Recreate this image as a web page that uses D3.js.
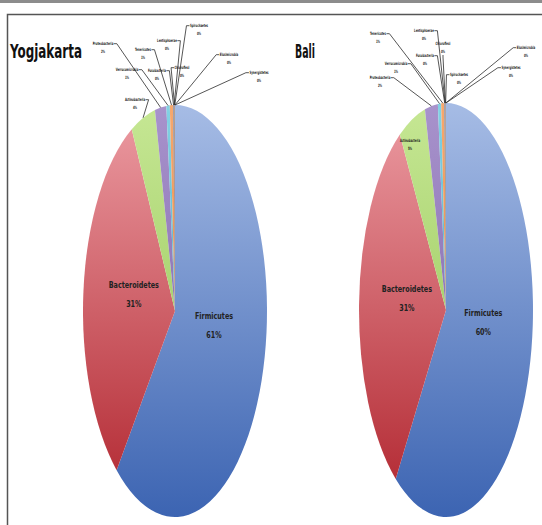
<!DOCTYPE html>
<html>
<head>
<meta charset="utf-8">
<script src="https://cdn.jsdelivr.net/npm/d3@7"></script>
<style>
  body { margin: 0; background: #fff; }
  svg { display: block; }
</style>
</head>
<body>
<div id="chart"></div>
<script>
// phylum composition (%), Excel category order
var phyla = ["Firmicutes", "Bacteroidetes", "Actinobacteria", "Proteobacteria", "Verrucomicrobia",
             "Tenericutes", "Fusobacteria", "Lentisphaerae", "Chloroflexi", "Spirochaetes",
             "Elusimicrobia", "Synergistetes"];
var yogjaValues = [61.0, 31.3, 4.3, 2.0, 0.6, 0.6, 0.1, 0.1, 0.05, 0.03, 0.01, 0.01];
var baliValues  = [59.8, 31.3, 5.0, 2.4, 0.6, 0.6, 0.1, 0.05, 0.05, 0.05, 0.02, 0.02];
var regionNames = ["Yogjakarta", "Bali"];

// slice colours (top -> bottom of gradient)
var sliceColors = [
  ["#a6bce5", "#3c64b2"], ["#ec9ca3", "#b0242d"], ["#c6e794", "#8cbf4c"],
  ["#a893cc", "#7659a2"], ["#83d2e4", "#3797b3"], ["#f7a86e", "#de772b"],
  ["#5a7bab", "#2c4d75"], ["#a55856", "#772c2a"], ["#8aa35a", "#5f7530"],
  ["#7a6892", "#4d3b62"], ["#4f98ab", "#276a7c"], ["#d88040", "#b65708"]
];

// layout of each pie and its outside labels (x, y of first line, side the leader leaves from)
var pies = [
  { name: regionNames[0], values: yogjaValues, cx: 175, cy: 311, rx: 92, ry: 206,
    title: { x: 10, y: 58, w: 72 },
    outside: {
      "Proteobacteria": [103, 45, "r"], "Tenericutes": [143, 51, "r"], "Lentisphaerae": [167, 42, "r"],
      "Spirochaetes": [199, 27, "l"], "Elusimicrobia": [229, 56, "l"], "Synergistetes": [259, 74, "l"],
      "Verrucomicrobia": [127, 71, "r"], "Fusobacteria": [157, 72, "r"], "Chloroflexi": [182, 69, "l"],
      "Actinobacteria": [135, 101, "r"]
    } },
  { name: regionNames[1], values: baliValues, cx: 446, cy: 310, rx: 87, ry: 207,
    title: { x: 295, y: 58, w: 20 },
    outside: {
      "Tenericutes": [378, 35, "r"], "Lentisphaerae": [424, 32, "r"], "Chloroflexi": [443, 45, "b"],
      "Fusobacteria": [425, 57, "r"], "Verrucomicrobia": [396, 65, "r"], "Proteobacteria": [380, 79, "r"],
      "Spirochaetes": [459, 76, "l"], "Elusimicrobia": [526, 49, "l"], "Synergistetes": [511, 69, "l"]
    },
    inside: { "Actinobacteria": [410, 142] } }
];

var width = 542, height = 525, R = 100;
var font = "'DejaVu Sans Condensed', 'DejaVu Sans', sans-serif";

var svg = d3.select("#chart").append("svg")
    .attr("width", width)
    .attr("height", height);

// page frame
svg.append("rect").attr("x", 0).attr("y", 0).attr("width", width).attr("height", 3).attr("fill", "#8c8c8c");
svg.append("rect").attr("x", 7.5).attr("y", 14.5).attr("width", 560).attr("height", 560)
    .attr("fill", "none").attr("stroke", "#555").attr("stroke-width", 1.5);

var defs = svg.append("defs");
sliceColors.forEach(function (c, i) {
  var g = defs.append("linearGradient").attr("id", "grad" + i)
      .attr("gradientUnits", "userSpaceOnUse")
      .attr("x1", 0).attr("y1", -R).attr("x2", 0).attr("y2", R);
  g.append("stop").attr("offset", "0%").attr("stop-color", c[0]);
  g.append("stop").attr("offset", "100%").attr("stop-color", c[1]);
});

var pie = d3.pie().sort(null).value(function (d) { return d; });
var arc = d3.arc().innerRadius(0).outerRadius(R);
var fmt = d3.format(".0%");

// two-line label squeezed horizontally by k (narrow font look); returns width of first line
function twoLine(x, y, a, b, size, gap, k, color, weight) {
  var t = svg.append("text")
      .attr("transform", "translate(" + x + "," + y + ") scale(" + k + ",1)")
      .attr("text-anchor", "middle")
      .style("font-family", font).style("font-size", size + "px")
      .style("font-weight", weight || "normal")
      .attr("fill", color);
  var t1 = t.append("tspan").attr("x", 0).attr("y", 0).text(a);
  t.append("tspan").attr("x", 0).attr("y", gap).text(b);
  return t1.node().getComputedTextLength() * k;
}

pies.forEach(function (p) {
  var total = d3.sum(p.values);
  var slices = pie(p.values);

  // title, squeezed to the reference width
  var title = svg.append("text")
      .style("font-family", font).style("font-weight", "bold").style("font-size", "20px")
      .attr("fill", "#111")
      .text(p.name);
  var tw = title.node().getComputedTextLength();
  title.attr("transform", "translate(" + p.title.x + "," + p.title.y + ") scale(" + (p.title.w / tw) + ",1)");

  // slices, drawn on a circle then stretched into the ellipse
  var g = svg.append("g")
      .attr("transform", "translate(" + p.cx + "," + p.cy + ") scale(" + (p.rx / R) + "," + (p.ry / R) + ")");
  g.selectAll("path").data(slices).enter().append("path")
      .attr("d", arc)
      .attr("fill", function (d, i) { return "url(#grad" + i + ")"; });

  function edgePoint(d) {
    var a = (d.startAngle + d.endAngle) / 2;
    return [p.cx + p.rx * Math.sin(a), p.cy - p.ry * Math.cos(a)];
  }

  // big inside labels
  slices.slice(0, 2).forEach(function (d, i) {
    var a = (d.startAngle + d.endAngle) / 2;
    var x = p.cx + Math.sin(a) * 0.45 * p.rx;
    var y = p.cy - Math.cos(a) * 0.35 * p.ry - 10;
    twoLine(x, y - 6, phyla[i], fmt(d.value / total), 9.5, 19, 0.75, "#222", "bold");
  });

  // small inside labels
  Object.keys(p.inside || {}).forEach(function (name) {
    var i = phyla.indexOf(name), pos = p.inside[name];
    twoLine(pos[0], pos[1], name, fmt(p.values[i] / total), 4.4, 8, 0.62, "#1a1a1a", "bold");
  });

  // outside labels with leader lines
  var leaders = svg.append("g");
  Object.keys(p.outside).forEach(function (name) {
    var i = phyla.indexOf(name), pos = p.outside[name];
    var w = twoLine(pos[0], pos[1], name, fmt(p.values[i] / total), 4.4, 8, 0.62, "#1a1a1a", "bold");
    var start, bend;
    if (pos[2] === "r") {
      start = [pos[0] + w / 2 + 0.5, pos[1] - 1.3];
      bend = [start[0] + 3, start[1]];
    } else if (pos[2] === "l") {
      start = [pos[0] - w / 2 - 0.5, pos[1] - 1.3];
      bend = [start[0] - 3, start[1]];
    } else {
      start = [pos[0], pos[1] + 10];
      bend = [pos[0], pos[1] + 12];
    }
    var end = edgePoint(slices[i]);
    leaders.append("path")
        .attr("d", d3.line()([start, bend, end]))
        .attr("fill", "none")
        .attr("stroke", "#2b2b2b")
        .attr("stroke-width", 0.8);
  });
});
</script>
</body>
</html>
